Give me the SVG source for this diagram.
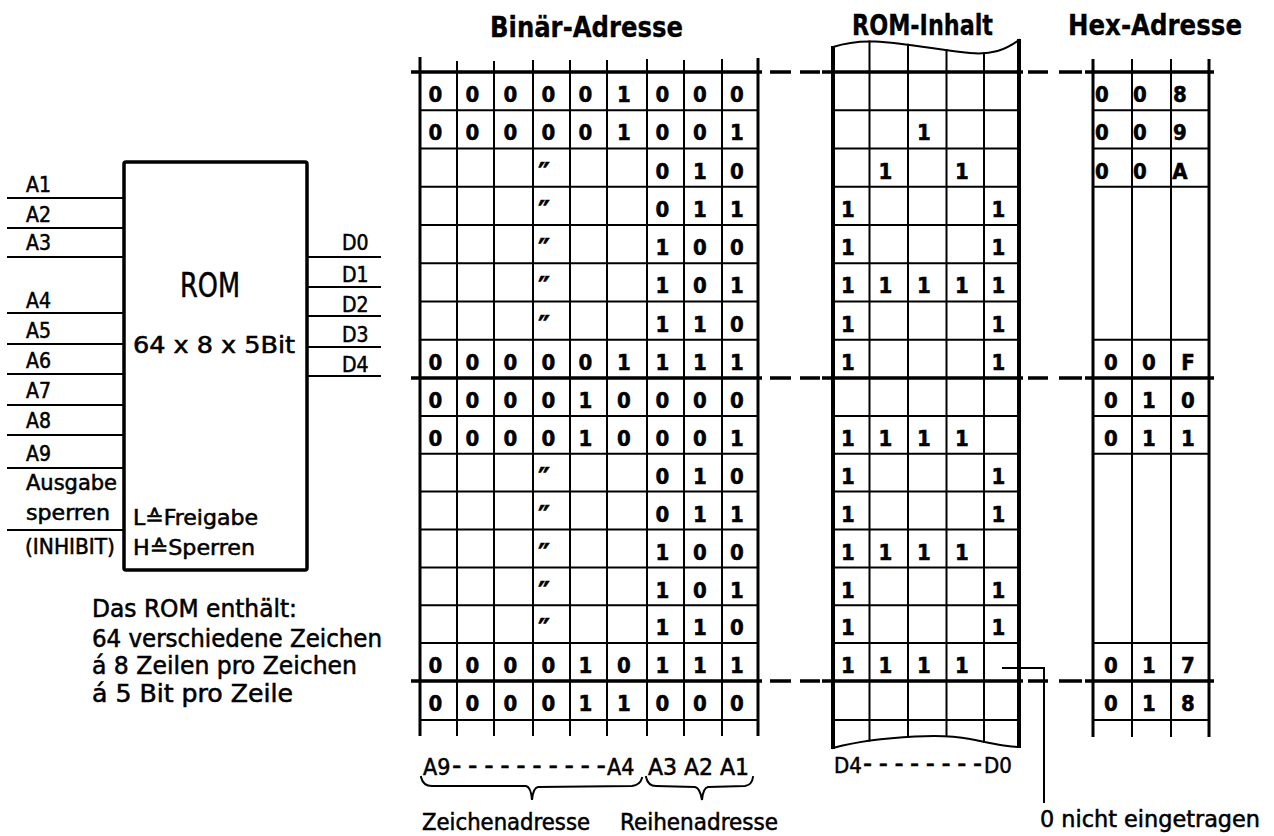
<svg xmlns="http://www.w3.org/2000/svg" width="1274" height="836" viewBox="0 0 1274 836">
<style>
text{font-family:"DejaVu Sans Condensed","DejaVu Sans",sans-serif;fill:#000;stroke:#000;stroke-width:0.5}
.lab{font-size:21px}
.big{font-size:23px}
.ttl{font-size:28px;font-weight:bold;stroke-width:0.3}
.dg{font-size:22px;font-weight:bold;text-anchor:middle;stroke-width:0.2}
.dt{font-size:30px;font-weight:bold;text-anchor:middle}
.ln{stroke:#000;stroke-width:2;fill:none;stroke-linecap:square}
.th{stroke:#000;stroke-width:3.5;fill:none}
.ed{stroke:#000;stroke-width:3;fill:none}
.re{stroke:#000;stroke-width:4;fill:none}
</style>
<rect width="1274" height="836" fill="#fff"/>

<g id="titles">
<text class="ttl" x="490" y="37" textLength="193" lengthAdjust="spacingAndGlyphs">Binär-Adresse</text>
<text class="ttl" x="852" y="35" textLength="141" lengthAdjust="spacingAndGlyphs">ROM-Inhalt</text>
<text class="ttl" x="1068" y="35" textLength="174" lengthAdjust="spacingAndGlyphs">Hex-Adresse</text>
</g>

<g id="rom-block">
<rect x="124" y="162" width="183" height="408" rx="2" class="th"/>
<text x="180" y="297" font-size="34" textLength="60" lengthAdjust="spacingAndGlyphs">ROM</text>
<text class="big" x="133" y="353" textLength="162" lengthAdjust="spacingAndGlyphs">64 x 8 x 5Bit</text>
<text class="lab" x="133" y="525" textLength="125" lengthAdjust="spacingAndGlyphs">L≙Freigabe</text>
<text class="lab" x="133" y="555" textLength="122" lengthAdjust="spacingAndGlyphs">H≙Sperren</text>
</g>

<g id="pin-labels" class="lab">
<text x="26" y="192">A1</text>
<text x="26" y="222">A2</text>
<text x="26" y="250">A3</text>
<text x="26" y="308">A4</text>
<text x="26" y="338">A5</text>
<text x="26" y="368">A6</text>
<text x="26" y="398">A7</text>
<text x="26" y="428">A8</text>
<text x="26" y="461">A9</text>
<text x="26" y="490" textLength="91" lengthAdjust="spacingAndGlyphs">Ausgabe</text>
<text x="26" y="520" textLength="84" lengthAdjust="spacingAndGlyphs">sperren</text>
<text x="25" y="554" textLength="90" lengthAdjust="spacingAndGlyphs">(INHIBIT)</text>
<text x="342" y="250">D0</text>
<text x="342" y="282">D1</text>
<text x="342" y="312">D2</text>
<text x="342" y="342">D3</text>
<text x="342" y="372">D4</text>
</g>

<g id="rom-note">
<text x="92" y="617" font-size="24" textLength="205" lengthAdjust="spacingAndGlyphs">Das ROM enthält:</text>
<text x="92" y="647" font-size="24" textLength="290" lengthAdjust="spacingAndGlyphs">64 verschiedene Zeichen</text>
<text x="92" y="674" font-size="24" textLength="265" lengthAdjust="spacingAndGlyphs">á 8 Zeilen pro Zeichen</text>
<text x="92" y="702" font-size="24" textLength="201" lengthAdjust="spacingAndGlyphs">á 5 Bit pro Zeile</text>
</g>

<g id="binaer-table">
<path class="th" d="M411,72H762M411,378H762M411,681H762"/>
<path class="ln" d="M420,110.25H758M420,148.5H758M420,186.75H758M420,225H758M420,263.25H758M420,301.5H758M420,339.75H758M420,415.9H758M420,453.75H758M420,491.6H758M420,529.5H758M420,567.4H758M420,605.25H758M420,643.1H758M420,720H758"/>
<path class="ed" d="M420,57V736M758,58V736"/>
<path class="ln" d="M457,62V735M494,62V735M533,61V735M570,61V735M607,61V735M647,60V735M684,61V735M722,60V735"/>
<g class="dg">
<text x="435.5 472.5 510.5 548.5 585.5 624 662.5 700 737" y="102">000001000</text>
<text x="435.5 472.5 510.5 548.5 585.5 624 662.5 700 737" y="140">000001001</text>
<text x="662.5 700 737" y="178.5">010</text>
<text x="662.5 700 737" y="217">011</text>
<text x="662.5 700 737" y="255">100</text>
<text x="662.5 700 737" y="293">101</text>
<text x="662.5 700 737" y="331.5">110</text>
<text x="435.5 472.5 510.5 548.5 585.5 624 662.5 700 737" y="370">000001111</text>
<text x="435.5 472.5 510.5 548.5 585.5 624 662.5 700 737" y="408">000010000</text>
<text x="435.5 472.5 510.5 548.5 585.5 624 662.5 700 737" y="446">000010001</text>
<text x="662.5 700 737" y="484">010</text>
<text x="662.5 700 737" y="521.5">011</text>
<text x="662.5 700 737" y="559.5">100</text>
<text x="662.5 700 737" y="597.5">101</text>
<text x="662.5 700 737" y="635">110</text>
<text x="435.5 472.5 510.5 548.5 585.5 624 662.5 700 737" y="673">000010111</text>
<text x="435.5 472.5 510.5 548.5 585.5 624 662.5 700 737" y="711">000011000</text>
</g>
<g class="dt">
<text x="544" y="184">″</text>
<text x="544" y="222">″</text>
<text x="544" y="260">″</text>
<text x="544" y="298">″</text>
<text x="544" y="336.5">″</text>
<text x="544" y="489">″</text>
<text x="544" y="526.5">″</text>
<text x="544" y="564.5">″</text>
<text x="544" y="602.5">″</text>
<text x="544" y="640">″</text>
</g>
<text class="big" y="775"><tspan x="423">A9</tspan><tspan x="452" font-size="29" textLength="154" lengthAdjust="spacing">----------</tspan><tspan x="607" font-size="23">A4</tspan></text>
<text class="big" x="648" y="775" textLength="101" lengthAdjust="spacingAndGlyphs">A3 A2 A1</text>
<path class="ln" d="M421,777Q423,786 432,786L526,786Q531,787 532,800Q533,788 538,787L632,786Q640,785 642,778"/>
<path class="ln" d="M646,777Q648,786 656,786L695,787Q700,788 702,800Q703,788 708,787L745,786Q752,785 753,777"/>
<text class="big" x="422" y="830" textLength="168" lengthAdjust="spacingAndGlyphs">Zeichenadresse</text>
<text class="big" x="620" y="830" textLength="158" lengthAdjust="spacingAndGlyphs">Reihenadresse</text>
</g>

<g id="rom-inhalt">
<path class="ln" d="M833,47C848,42 862,41 875,41.5C905,43 940,50 970,53C992,55 1005,50 1019,40"/>
<path class="ln" d="M833,748C855,742 885,738 915,736.5C940,735 955,736 970,739C990,743 1005,747 1019,747"/>
<path class="th" d="M822,72H1023M822,378H1023M822,681H1023"/>
<path class="ln" d="M833,110.25H1019M833,148.5H1019M833,186.75H1019M833,225H1019M833,263.25H1019M833,301.5H1019M833,339.75H1019M833,415.9H1019M833,453.75H1019M833,491.6H1019M833,529.5H1019M833,567.4H1019M833,605.25H1019M833,643.1H1019M833,720H1019"/>
<path class="ln" d="M869.5,41.5V740.5M908,44.7V737M946.5,50V736M984,53.2V742"/>
<path class="re" d="M833,46V749M1019,39V748"/>
<g class="dg">
<text x="924" y="140">1</text>
<text x="885.5 962" y="178.5">11</text>
<text x="848 998.5" y="217">11</text>
<text x="848 998.5" y="255">11</text>
<text x="848 885.5 924 962 998.5" y="293">11111</text>
<text x="848 998.5" y="331.5">11</text>
<text x="848 998.5" y="370">11</text>
<text x="848 885.5 924 962" y="446">1111</text>
<text x="848 998.5" y="484">11</text>
<text x="848 998.5" y="521.5">11</text>
<text x="848 885.5 924 962" y="559.5">1111</text>
<text x="848 998.5" y="597.5">11</text>
<text x="848 998.5" y="635">11</text>
<text x="848 885.5 924 962" y="673">1111</text>
</g>
<text font-size="22" y="773"><tspan x="834">D4</tspan><tspan x="863" font-size="28" textLength="119" lengthAdjust="spacing">--------</tspan><tspan x="984" font-size="22">D0</tspan></text>
</g>

<g id="hex-table">
<path class="th" d="M1085,72H1214M1085,378H1214M1085,681H1214"/>
<path class="ln" d="M1093,110.25H1209M1093,148.5H1209M1093,186.75H1209M1093,339.75H1209M1093,415.9H1209M1093,453.75H1209M1093,643.1H1209M1093,720H1209"/>
<path class="ed" d="M1093,59V737M1209,59V737"/>
<path class="ln" d="M1132,60V736M1171,60V736"/>
<g class="dg">
<text x="1102 1140 1180" y="102">008</text>
<text x="1102 1140 1180" y="140">009</text>
<text x="1102 1140 1180" y="178.5">00A</text>
<text x="1111 1149 1188" y="370">00F</text>
<text x="1111 1149 1188" y="408">010</text>
<text x="1111 1149 1188" y="446">011</text>
<text x="1111 1149 1188" y="673">017</text>
<text x="1111 1149 1188" y="711">018</text>
</g>
</g>

<g id="connectors">
<path class="ln" d="M8,198H124M8,228H124M8,257H124M8,313H124M8,344H124M8,374H124M8,405H124M8,435H124M8,468H124M8,530H124"/>
<path class="ln" d="M307,257H380M307,287H380M307,316H380M307,347H380M307,376H380"/>
<path class="th" d="M770,72H791M800,72H820M1028,72H1048M1059,72H1082M770,378H791M800,378H820M1028,378H1048M1059,378H1082M770,681H791M800,681H820M1028,681H1048M1059,681H1082"/>
<path class="ln" d="M1003,668H1044V802"/>
</g>
<text class="big" x="1040" y="827" textLength="220" lengthAdjust="spacingAndGlyphs">0 nicht eingetragen</text>
</svg>
